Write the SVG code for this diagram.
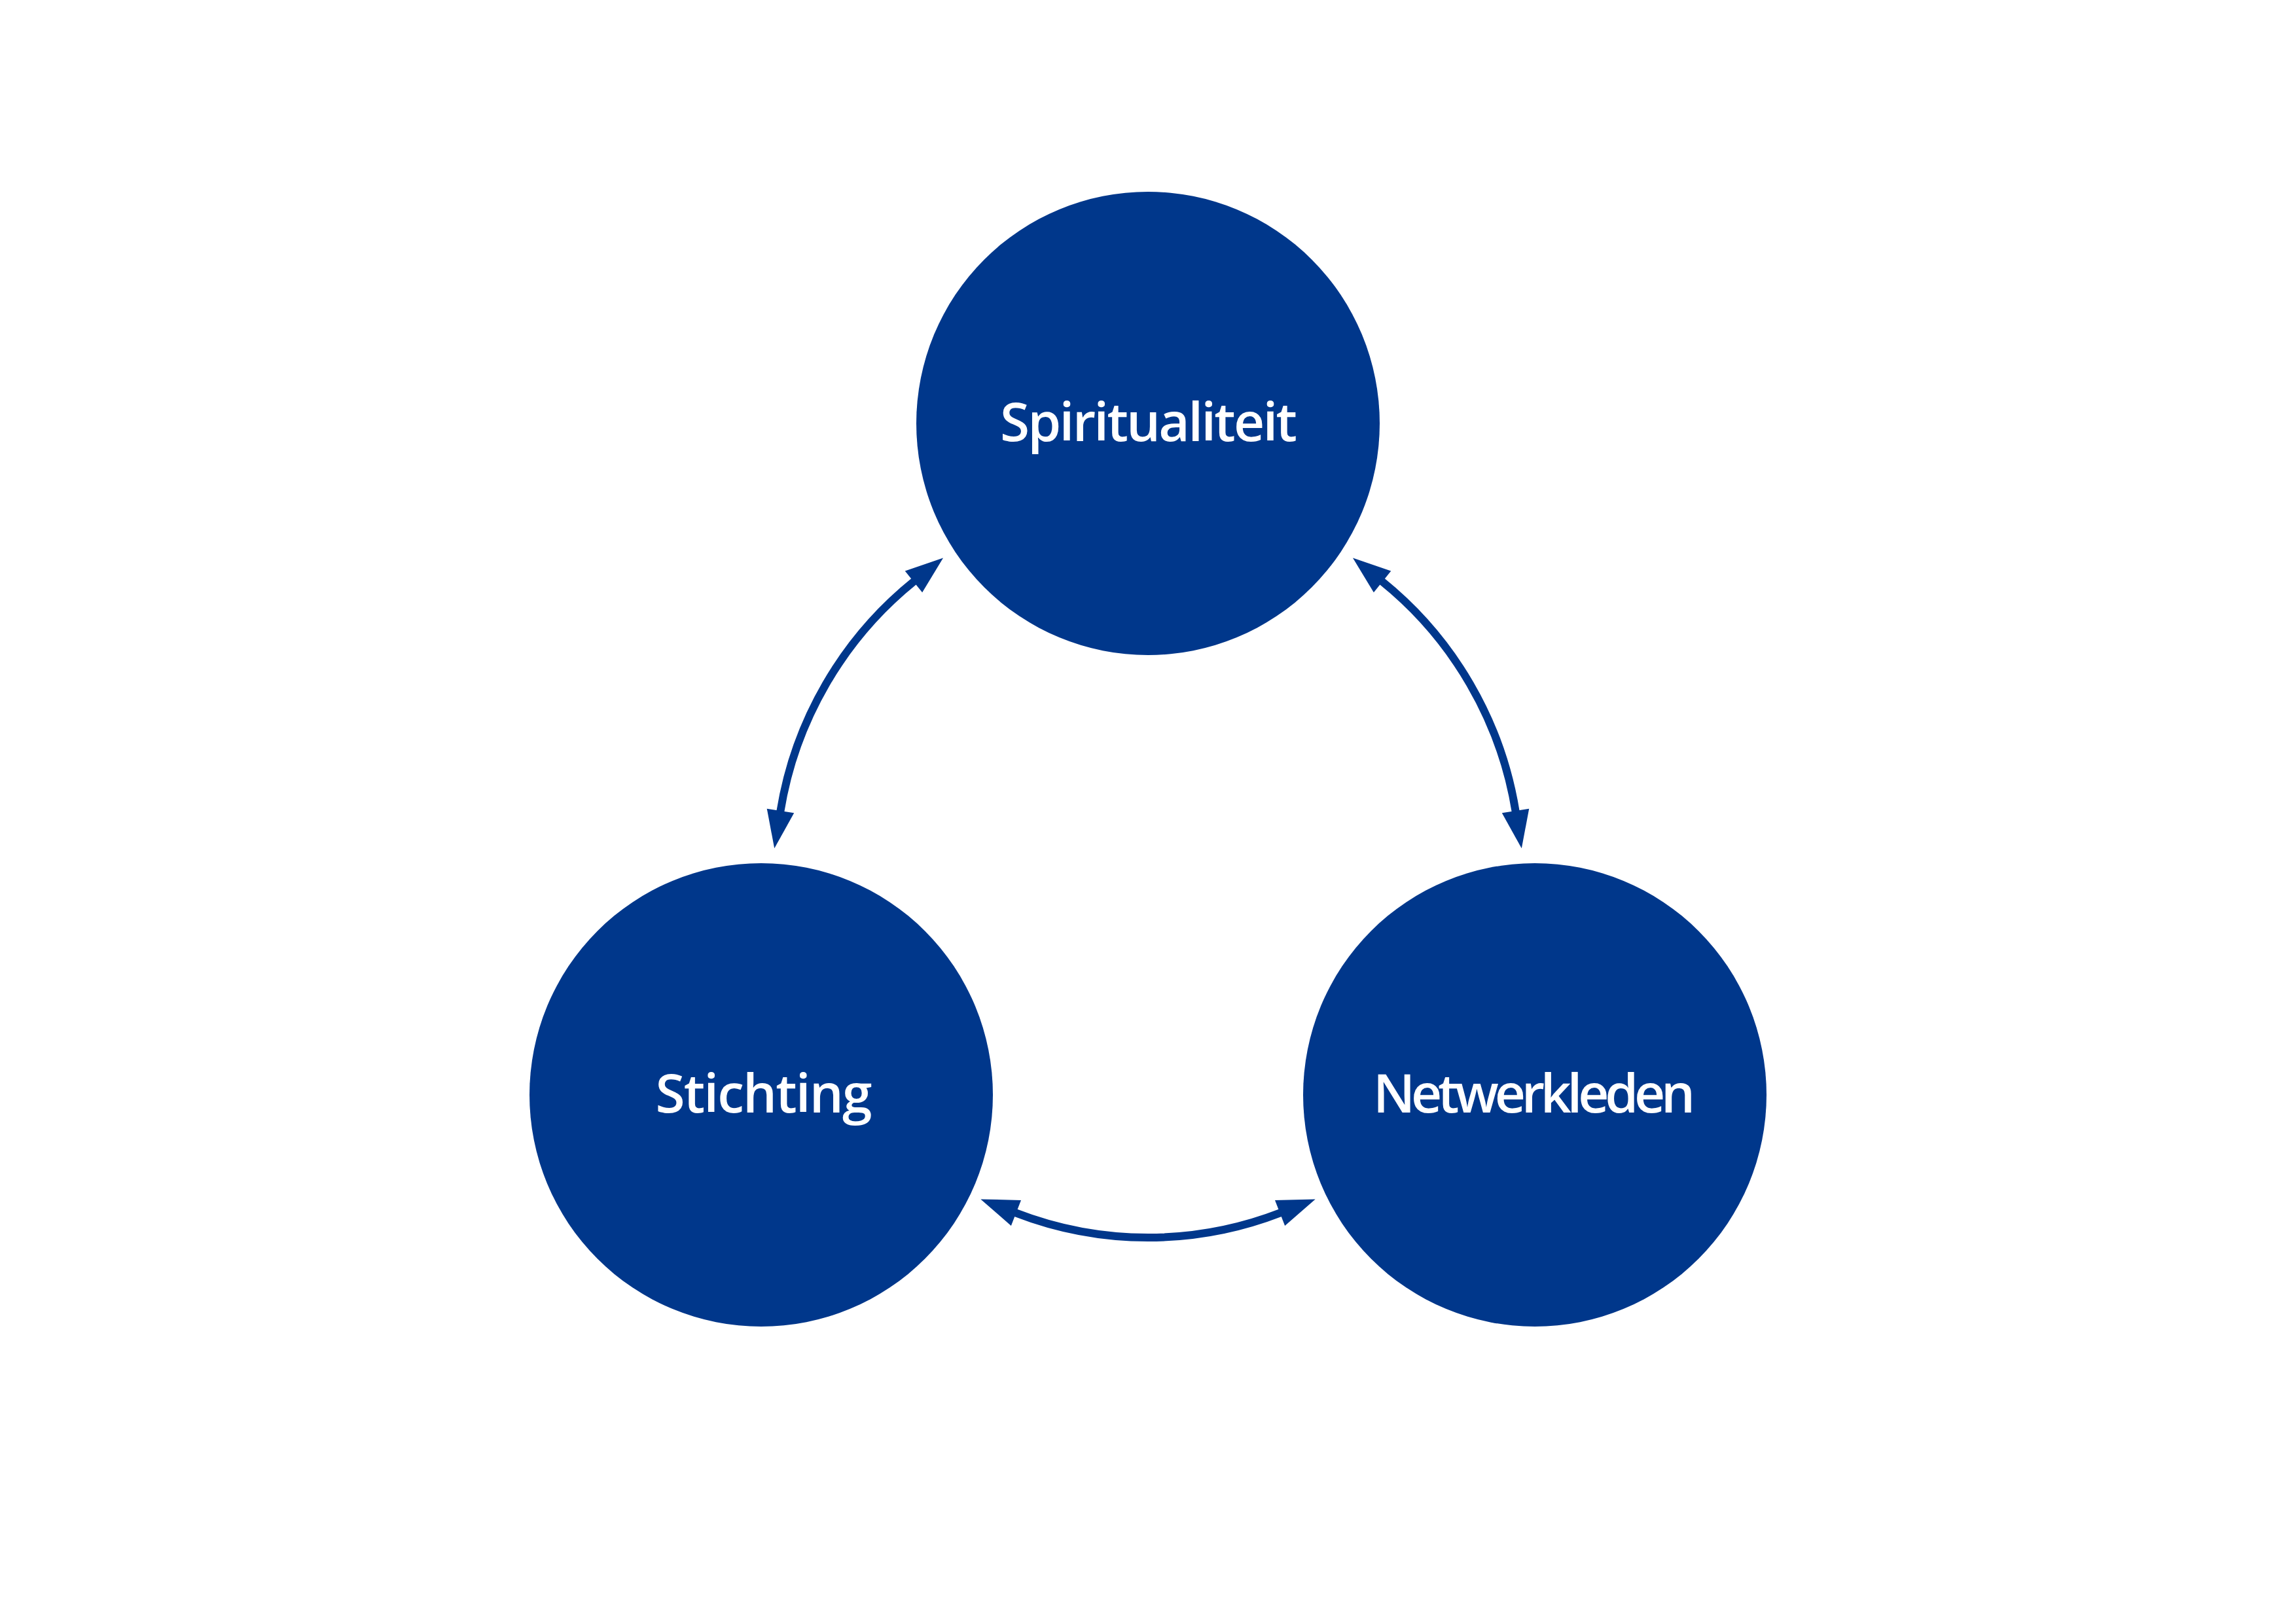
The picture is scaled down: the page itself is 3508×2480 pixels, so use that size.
<svg xmlns="http://www.w3.org/2000/svg" width="3508" height="2480" viewBox="0 0 3508 2480">
<style>
.node{fill:#00378b}
.lbl{fill:#ffffff;font-family:"Open Sans","Noto Sans","Liberation Sans",sans-serif;font-size:82px;font-weight:600;text-anchor:middle}
.conn{fill:none;stroke:#00378b;stroke-width:12}
</style>
<defs>
<marker id="ah" markerUnits="userSpaceOnUse" markerWidth="62" markerHeight="46" viewBox="0 -23 62 46" refX="1" refY="0" orient="auto-start-reverse" overflow="visible">
<path d="M0,-21 L58,0 L0,21 Z" fill="#00378b"/>
</marker>
</defs>
<rect width="3508" height="2480" fill="#ffffff"/>
<g id="connectors">
<path class="conn" d="M1192.3,1240 A569,569 0 0 1 1396.7,888.2" marker-start="url(#ah)" marker-end="url(#ah)"/>
<path class="conn" d="M2111.3,888.2 A569,569 0 0 1 2315.7,1240" marker-start="url(#ah)" marker-end="url(#ah)"/>
<path class="conn" d="M1956.5,1853.1 A560,560 0 0 1 1551.5,1853.1" marker-start="url(#ah)" marker-end="url(#ah)"/>
</g>
<g id="node-spiritualiteit">
<circle class="node" cx="1754" cy="647" r="354"/>
<text class="lbl" x="1755" y="674" textLength="454" lengthAdjust="spacing">Spiritualiteit</text>
</g>
<g id="node-stichting">
<circle class="node" cx="1163" cy="1673" r="354"/>
<text class="lbl" x="1167" y="1700" textLength="331" lengthAdjust="spacing">Stichting</text>
</g>
<g id="node-netwerkleden">
<circle class="node" cx="2345" cy="1673" r="354"/>
<text class="lbl" x="2344" y="1700" textLength="492" lengthAdjust="spacing">Netwerkleden</text>
</g>
</svg>
